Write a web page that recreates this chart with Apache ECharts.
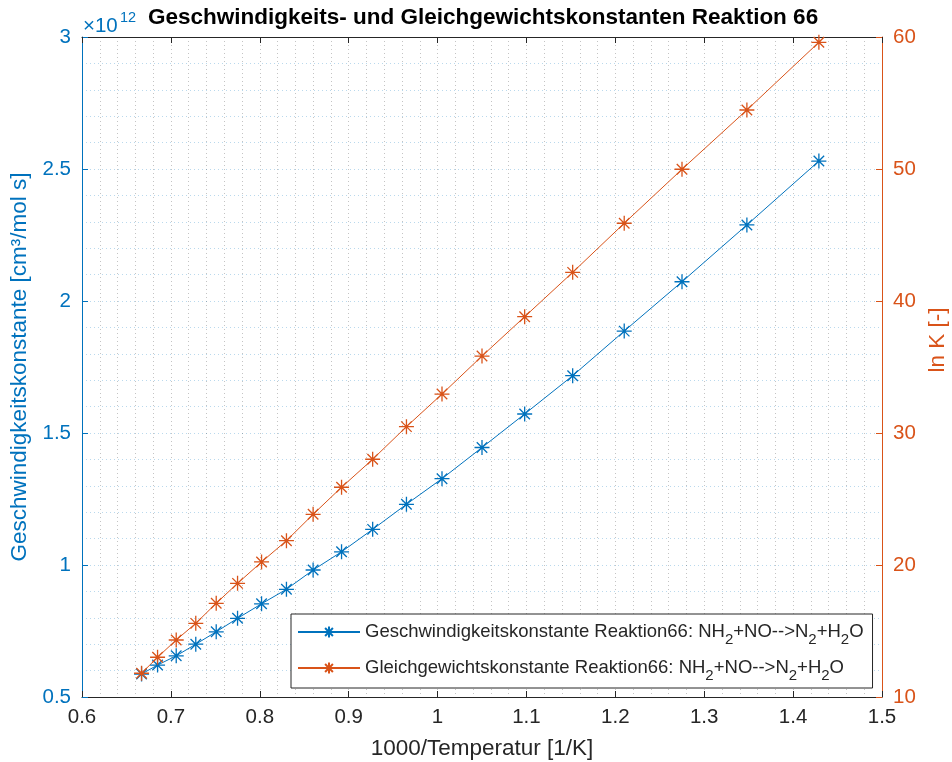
<!DOCTYPE html>
<html>
<head>
<meta charset="utf-8">
<script src="https://cdn.jsdelivr.net/npm/echarts@6/dist/echarts.min.js"></script>
<style>
  html, body { margin: 0; padding: 0; background: #fff; }
  #chart { width: 952px; height: 762px; }
</style>
</head>
<body>
<div id="chart"></div>
<script>
// 1000/T values (x axis)
var xWerte = [0.667, 0.685, 0.706, 0.728, 0.751, 0.775, 0.802, 0.830, 0.860, 0.892,
              0.927, 0.965, 1.005, 1.050, 1.098, 1.152, 1.210, 1.275, 1.348, 1.429];

// rate constant, in units of 1e12 cm3/(mol s)
var kWerte = [0.587, 0.621, 0.656, 0.700, 0.747, 0.798, 0.853, 0.908, 0.981, 1.050,
              1.135, 1.230, 1.327, 1.445, 1.572, 1.717, 1.886, 2.073, 2.288, 2.530];

// ln K
var lnKWerte = [11.80, 13.01, 14.32, 15.58, 17.10, 18.61, 20.23, 21.84, 23.84, 25.89,
                28.01, 30.48, 32.95, 35.83, 38.81, 42.17, 45.89, 49.98, 54.47, 59.60];

var xTicks = { min: 0.6, max: 1.5, interval: 0.1 };
var kTicks = { min: 0.5, max: 3, interval: 0.5 };
var lnKTicks = { min: 10, max: 60, interval: 10 };

var nameK = 'Geschwindigkeitskonstante Reaktion66: NH2+NO-->N2+H2O';
var nameLnK = 'Gleichgewichtskonstante Reaktion66: NH2+NO-->N2+H2O';

var blau = '#0072BD';
var orange = '#D95319';
var grau = '#262626';
var font = 'Liberation Sans';

// MATLAB style '*' marker
var stern = 'path://M0,-10L0,10M-10,0L10,0M-7,-7L7,7M-7,7L7,-7';

function paare(ys) {
    var out = [];
    for (var i = 0; i < xWerte.length; i++) {
        out.push([xWerte[i], ys[i]]);
    }
    return out;
}

var punkte = [1, 3];
var gitterGrau = 'rgba(38,38,38,0.27)';
var gitterBlau = 'rgba(0,114,189,0.27)';

var option = {
    animation: false,
    textStyle: { fontFamily: font },
    title: {
        text: 'Geschwindigkeits- und Gleichgewichtskonstanten Reaktion 66',
        left: 148,
        top: 6,
        padding: 0,
        textStyle: { fontFamily: font, fontSize: 22.5, fontWeight: 'bold', color: '#000' }
    },
    graphic: [
        { type: 'text', left: 83, top: 16, silent: true,
          style: { text: '×10', fontFamily: font, fontSize: 20.5, fill: blau } },
        { type: 'text', left: 120, top: 10, silent: true,
          style: { text: '12', fontFamily: font, fontSize: 14.5, fill: blau } },
        { type: 'text', x: 926, y: 340, rotation: Math.PI / 2, silent: true,
          style: { text: 'ln K [-]', fontFamily: font, fontSize: 22.5, fill: orange,
                   align: 'center', verticalAlign: 'top' } }
    ],
    grid: { left: 82, right: 70, top: 37, bottom: 65, outerBoundsMode: 'none' },
    legend: {
        data: [nameK, nameLnK],
        orient: 'vertical',
        left: 291,
        top: 614,
        padding: [3, 9, 5, 6],
        itemGap: 6,
        itemWidth: 62,
        itemHeight: 14,
        backgroundColor: '#fff',
        borderColor: grau,
        borderWidth: 1,
        selectedMode: false,
        formatter: function (n) {
            return n.replace(/([HN])2/g, '$1{s|2}');
        },
        textStyle: {
            fontFamily: font, fontSize: 18.5, color: grau, lineHeight: 30,
            rich: {
                s: { fontFamily: font, fontSize: 15, color: grau, lineHeight: 16, verticalAlign: 'bottom' }
            }
        }
    },
    xAxis: [{
        type: 'value',
        position: 'bottom',
        min: xTicks.min, max: xTicks.max, interval: xTicks.interval,
        name: '1000/Temperatur [1/K]',
        nameLocation: 'middle',
        nameGap: 40,
        nameTextStyle: { fontFamily: font, fontSize: 22.5, color: grau },
        axisLine: { show: true, onZero: false, lineStyle: { color: grau, width: 1 } },
        axisTick: { show: true, inside: true, length: 6, lineStyle: { color: grau } },
        axisLabel: { fontFamily: font, fontSize: 20.5, color: grau, margin: 10 },
        splitLine: { show: true, lineStyle: { color: gitterGrau, type: punkte } },
        minorTick: { show: false, splitNumber: 5 },
        minorSplitLine: { show: true, lineStyle: { color: gitterGrau, type: punkte } }
    }, {
        type: 'value',
        position: 'top',
        min: xTicks.min, max: xTicks.max, interval: xTicks.interval,
        axisLine: { show: true, onZero: false, lineStyle: { color: grau, width: 1 } },
        axisTick: { show: true, inside: true, length: 6, lineStyle: { color: grau } },
        axisLabel: { show: false },
        splitLine: { show: false }
    }],
    yAxis: [{
        type: 'value',
        position: 'left',
        min: kTicks.min, max: kTicks.max, interval: kTicks.interval,
        name: 'Geschwindigkeitskonstante [cm³/mol s]',
        nameLocation: 'middle',
        nameGap: 47,
        nameTextStyle: { fontFamily: font, fontSize: 22.5, color: blau },
        axisLine: { show: true, onZero: false, lineStyle: { color: blau, width: 1 } },
        axisTick: { show: true, inside: true, length: 6, lineStyle: { color: blau } },
        axisLabel: { fontFamily: font, fontSize: 20.5, color: blau, margin: 11 },
        splitLine: { show: true, lineStyle: { color: gitterBlau, type: punkte } },
        minorTick: { show: false, splitNumber: 5 },
        minorSplitLine: { show: true, lineStyle: { color: gitterBlau, type: punkte } }
    }, {
        type: 'value',
        position: 'right',
        min: lnKTicks.min, max: lnKTicks.max, interval: lnKTicks.interval,
        axisLine: { show: true, onZero: false, lineStyle: { color: orange, width: 1 } },
        axisTick: { show: true, inside: true, length: 6, lineStyle: { color: orange } },
        axisLabel: { fontFamily: font, fontSize: 20.5, color: orange, margin: 11 },
        splitLine: { show: false }
    }],
    series: [{
        name: nameK,
        type: 'line',
        xAxisIndex: 0,
        yAxisIndex: 0,
        data: paare(kWerte),
        symbol: stern,
        symbolSize: 15,
        showAllSymbol: true,
        silent: true,
        lineStyle: { color: blau, width: 1 },
        itemStyle: { color: blau, borderColor: blau, borderWidth: 1.3 },
        emphasis: { disabled: true }
    }, {
        name: nameLnK,
        type: 'line',
        xAxisIndex: 0,
        yAxisIndex: 1,
        data: paare(lnKWerte),
        symbol: stern,
        symbolSize: 15,
        showAllSymbol: true,
        silent: true,
        lineStyle: { color: orange, width: 1 },
        itemStyle: { color: orange, borderColor: orange, borderWidth: 1.3 },
        emphasis: { disabled: true }
    }]
};

var chart = echarts.init(document.getElementById('chart'), null, { renderer: 'canvas' });
chart.setOption(option);
</script>
</body>
</html>
